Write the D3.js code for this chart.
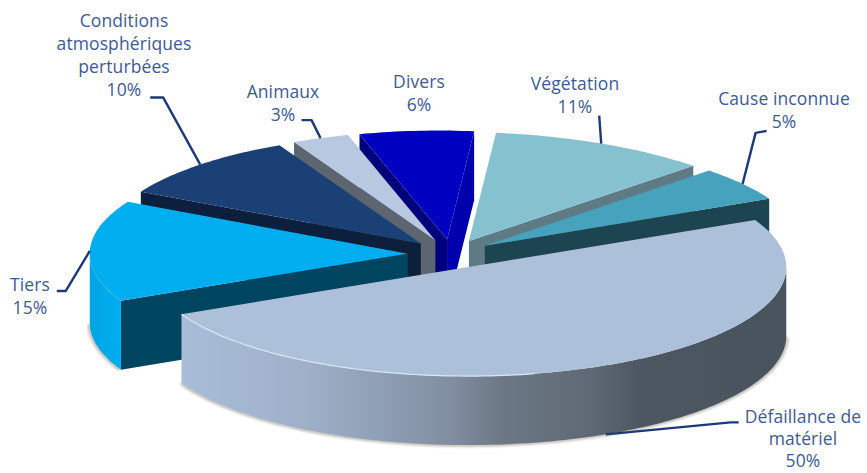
<!DOCTYPE html>
<html lang="fr">
<head>
<meta charset="utf-8">
<title>Causes des pannes</title>
<script src="https://cdn.jsdelivr.net/npm/d3@7"></script>
<style>
  html, body { margin: 0; background: #fff; }
  svg { display: block; }
  text { font-family: "Open Sans", sans-serif; font-size: 17.5px; fill: #3f5a92; letter-spacing: 0.1px; }
</style>
</head>
<body>
<svg id="chart" width="867" height="473"></svg>
<script>
// Share of outages per cause, clockwise from the large front slice.
const categories = ["Défaillance de matériel", "Tiers", "Conditions atmosphériques perturbées", "Animaux", "Divers", "Végétation", "Cause inconnue"];
const shares = [50, 15, 10, 3, 6, 11, 5];
const labelLines = [["Défaillance de", "matériel"], ["Tiers"], ["Conditions", "atmosphériques", "perturbées"], ["Animaux"], ["Divers"], ["Végétation"], ["Cause inconnue"]];

// Palette: top face, cut faces, rim.
const topColors = ["#adc0d9", "#00aeef", "#1a4075", "#b6c9e0", "#0000c0", "#86c1cf", "#46a2bd"];
const cutColors = ["#6b7684", "#00455f", "#0c1f3d", "#5c6570", "#00007c", "#5d7a85", "#1d4451"];
const rimColors = ["url(#rimBig)", "url(#rimTiers)", "#0c1f3d", "#5c6570", "#0000a8", "#5d7a85", "#1d4451"];
const endCutColors = ["#6b7684", "#00455f", "#0c1f3d", "#5c6570", "#0000ad", "#5d7a85", "#1d4451"];

// Projection of the tilted disc.
const centreX = 450, centreY = 254, radiusX = 318, radiusY = 109, depth = 69, explode = 0.133;
const startDeg = 64.4;
const x = d3.scaleLinear().domain([-1, 1]).range([centreX - radiusX, centreX + radiusX]);
const y = d3.scaleLinear().domain([-1, 1]).range([centreY - radiusY, centreY + radiusY]);

const slices = d3.pie().sort(null).value(d => d)
  .startAngle(startDeg * Math.PI / 180)
  .endAngle((startDeg + 360) * Math.PI / 180)(shares);

const svg = d3.select("#chart");
const defs = svg.append("defs");

function linearGradient(id, stops) {
  const g = defs.append("linearGradient").attr("id", id);
  stops.forEach(([o, c]) => g.append("stop").attr("offset", o).attr("stop-color", c));
}
linearGradient("rimBig", [
  [0, "#a9bdd8"], [0.2, "#9fb0c9"], [0.33, "#8f9fb5"], [0.45, "#808da0"],
  [0.53, "#6d7886"], [0.68, "#5f6975"], [0.76, "#4d5761"], [1, "#49535d"]
]);
linearGradient("rimTiers", [[0, "#00a4e2"], [1, "#00aeef"]]);
defs.append("filter").attr("id", "soft").attr("x", "-5%").attr("y", "-5%").attr("width", "110%").attr("height", "110%")
  .append("feGaussianBlur").attr("stdDeviation", 1.3);

// Far rim leans slightly to the left, strongest near the back of the disc.
function farLean(t) {
  const deg = t * 180 / Math.PI;
  return 11 * Math.exp(-Math.pow((deg - 285) / 40, 2));
}

// Screen position of a disc point at parametric angle t, dropped by h.
function place(slice, t, r, h = 0) {
  const mid = (slice.startAngle + slice.endAngle) / 2 - Math.PI / 2;
  return [
    x(explode * Math.cos(mid) + r * Math.cos(t)) - r * farLean(t),
    y(explode * Math.sin(mid) + r * Math.sin(t)) + h
  ];
}
const outline = d3.line();
function arcSamples(a, b) {
  const n = Math.max(2, Math.ceil(Math.abs(b - a) / 0.02));
  return d3.range(n + 1).map(i => a + (b - a) * i / n);
}

// Back slices are painted first so nearer ones overlap them.
const paintOrder = [4, 3, 2, 1, 5, 6, 0];
paintOrder.forEach(i => {
  const s = slices[i];
  const t1 = s.startAngle - Math.PI / 2, t2 = s.endAngle - Math.PI / 2;
  const g = svg.append("g").attr("class", "slice");
  const front = arcSamples(t1, t2).filter(t => Math.sin(t) >= -0.001);

  // Soft contact shadow under the rim.
  if (front.length > 1) {
    g.append("path").attr("fill", "none").attr("stroke", "#8f8a80").attr("stroke-width", 3)
      .attr("stroke-opacity", 0.55).attr("filter", "url(#soft)")
      .attr("d", outline(front.map(t => place(s, t, 1.003, depth))));
  }

  if (Math.cos(t1) < 0) {
    g.append("path").attr("fill", cutColors[i]).attr("d", outline([
      place(s, 0, 0), place(s, t1, 1), place(s, t1, 1, depth), place(s, 0, 0, depth)
    ]) + "Z");
  }
  if (Math.cos(t2) > 0) {
    g.append("path").attr("fill", endCutColors[i]).attr("d", outline([
      place(s, 0, 0), place(s, t2, 1), place(s, t2, 1, depth), place(s, 0, 0, depth)
    ]) + "Z");
  }

  // Visible rim: only the part of the arc that faces the viewer.
  if (front.length > 1) {
    const rim = front.map(t => place(s, t, 1)).concat(front.slice().reverse().map(t => place(s, t, 1, depth)));
    g.append("path").attr("fill", rimColors[i]).attr("d", outline(rim) + "Z");
  }

  const top = [place(s, 0, 0)].concat(arcSamples(t1, t2).map(t => place(s, t, 1)));
  g.append("path").attr("fill", topColors[i]).attr("d", outline(top) + "Z");

  // Light bevel along the front edge of the big slice.
  if (i === 0) {
    g.append("path").attr("fill", "none").attr("stroke", "#dbe6f4").attr("stroke-width", 1.2)
      .attr("d", outline(front.filter(t => t > 1.35).map(t => place(s, t, 1))));
  }
});

// Leader elbows and label anchors, relative to the outer midpoint of each slice.
const labelLayout = [
  { cx: 803, top: 423, step: 22, elbow: [[125, -12], [133, -12]], atBase: true },
  { cx: 30, top: 291, elbow: [[-24, 40], [-33, 40]] },
  { cx: 124, top: 27, elbow: [[-37, -67], [-50, -67]] },
  { cx: 283, top: 98, elbow: [[-9, -18], [-19, -18]] },
  { cx: 419, top: 88 },
  { cx: 575, top: 90, elbow: [[-2, -28]] },
  { cx: 784, top: 105, elbow: [[13, -51], [24, -53]] }
];

slices.forEach((s, i) => {
  const layout = labelLayout[i];
  const mid = (s.startAngle + s.endAngle) / 2 - Math.PI / 2;
  if (layout.elbow) {
    const from = place(s, mid, 1, layout.atBase ? depth : 0);
    const pts = [from].concat(layout.elbow.map(([dx, dy]) => [from[0] + dx, from[1] + dy]));
    svg.append("path").attr("fill", "none").attr("stroke", "#1c3a78").attr("stroke-width", 2.4)
      .attr("stroke-linejoin", "round").attr("d", outline(pts));
  }
  const text = svg.append("text").attr("text-anchor", "middle");
  labelLines[i].concat(`${shares[i]}%`).forEach((line, j) => {
    text.append("tspan").attr("x", layout.cx).attr("y", layout.top + j * (layout.step || 23)).text(line);
  });
});
</script>
</body>
</html>
